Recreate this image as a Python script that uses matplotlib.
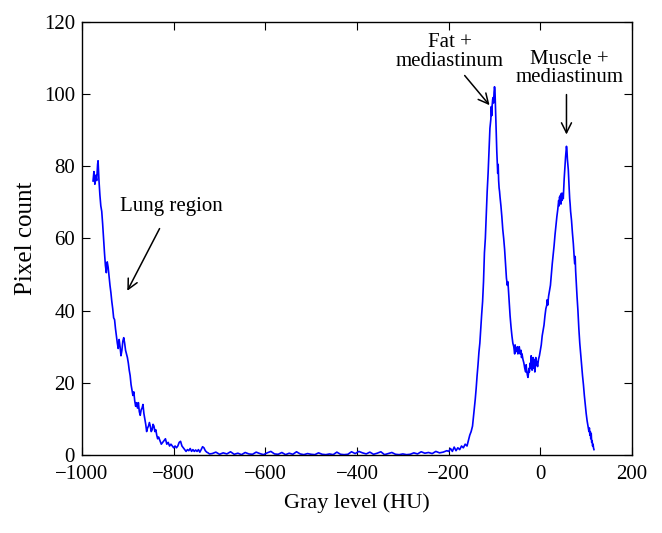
import matplotlib
matplotlib.use("Agg")
import matplotlib.pyplot as plt

plt.rcParams['font.family'] = ['Liberation Serif', 'DejaVu Serif']

# gray level (HU) and pixel count
lung_hu = [-976, -974, -972, -970, -968, -966, -965, -963, -961, -959, -957, -955,
           -953, -951, -949, -947, -945, -943, -941, -939, -937, -935, -933, -931,
           -929, -927, -925, -923, -921, -919, -917, -915, -913, -911, -909, -907,
           -905, -903, -901, -899, -897, -895, -893, -891, -889, -887, -885, -883,
           -881, -879, -877, -875, -873, -871, -869, -867, -865, -863, -861, -859,
           -857, -855, -853, -851, -849, -847, -845, -843, -841, -839, -837, -835,
           -833, -830, -827, -824, -821, -818, -815, -812, -809, -806, -803, -800,
           -797, -794, -791, -788, -785, -782, -779, -776, -773, -770, -767, -764,
           -761, -758, -755, -752, -749, -746, -743, -740, -737, -734, -731, -728,
           -725, -722]
lung_count = [75.9, 78.5, 75.0, 77.5, 76.0, 80.5, 81.5, 76.0, 72.0, 69.0, 67.5, 64.0,
              60.0, 56.0, 52.5, 50.5, 53.5, 52.0, 49.5, 47.0, 45.0, 42.5, 40.5, 38.0,
              37.5, 35.0, 33.0, 31.0, 29.5, 32.0, 30.0, 27.5, 29.0, 31.5, 32.5, 31.0,
              29.0, 28.0, 27.0, 25.5, 23.5, 22.0, 19.5, 18.0, 16.5, 17.5, 15.0, 13.5,
              14.5, 13.0, 14.5, 12.0, 11.0, 12.5, 13.0, 14.0, 11.5, 10.0, 8.5, 6.5,
              7.5, 8.0, 9.0, 8.0, 6.5, 7.0, 8.5, 8.0, 6.5, 7.0, 5.5, 4.5,
              5.0, 4.0, 3.0, 3.5, 4.0, 4.5, 3.0, 3.5, 2.5, 3.0, 2.5, 2.0,
              2.5, 2.0, 2.5, 3.5, 3.8, 2.5, 2.0, 1.5, 1.0, 1.5, 1.2, 1.8,
              1.0, 1.5, 1.0, 1.4, 1.0, 1.5, 0.8, 1.5, 2.3, 2.0, 1.2, 0.8,
              0.6, 0.3]

flat_hu = [-716, -708, -700, -692, -684, -676, -668, -660, -652, -644, -636, -628,
           -620, -612, -604, -596, -588, -580, -572, -564, -556, -548, -540, -532,
           -524, -516, -508, -500, -492, -484, -476, -468, -460, -452, -444, -436,
           -428, -420, -412, -404, -396, -388, -380, -372, -364, -356, -348, -340,
           -332, -324, -316, -308, -300, -292, -284, -276, -268, -260, -252, -244,
           -236, -228, -220, -212, -204]
flat_count = [0.4, 0.8, 0.2, 0.6, 0.3, 0.9, 0.2, 0.5, 0.1, 0.7, 0.3, 0.2,
              0.8, 0.4, 0.1, 0.6, 1.0, 0.3, 0.2, 0.7, 0.1, 0.5, 0.2, 0.9,
              0.3, 0.1, 0.4, 0.2, 0.1, 0.6, 0.2, 0.1, 0.3, 0.1, 0.8, 0.2,
              0.1, 0.2, 0.9, 0.4, 1.0, 0.6, 0.3, 0.8, 0.2, 0.5, 0.9, 0.1,
              0.4, 0.7, 0.2, 0.1, 0.3, 0.1, 0.2, 0.6, 0.3, 0.9, 0.5, 0.7,
              0.4, 1.0, 0.6, 0.8, 1.2]

soft_hu = [-200, -196, -192, -188, -184, -180, -176, -172, -168, -164, -160, -157,
           -154, -151, -148, -146, -144, -142, -140, -138, -136, -134, -132, -130,
           -128, -126, -124, -122, -120, -118, -116, -114, -112, -110, -108, -107,
           -106, -105, -104, -103, -102, -101, -100, -99, -98, -97, -96, -95,
           -94, -93, -92, -91, -90, -89, -88, -86, -84, -82, -80, -78,
           -76, -74, -72, -71, -70, -68, -66, -64, -62, -60, -58, -56,
           -55, -54, -52, -50, -49, -48, -46, -44, -42, -41, -40, -38,
           -36, -34, -32, -31, -30, -28, -27, -26, -25, -24, -22, -21,
           -20, -19, -18, -16, -15, -14, -12, -11, -10, -9, -8, -6,
           -4, -2, 0, 2, 4, 6, 8, 10, 12, 14, 15, 16,
           18, 20, 22, 24, 26, 28, 30, 32, 34, 36, 38, 40,
           41, 42, 43, 44, 45, 46, 47, 48, 49, 50, 51, 52,
           53, 54, 55, 56, 57, 58, 59, 60, 61, 62, 63, 64,
           65, 66, 68, 70, 72, 74, 75, 76, 77, 78, 80, 82,
           84, 86, 88, 90, 92, 94, 96, 98, 100, 102, 104, 106,
           107, 108, 109, 110, 111, 112, 113, 114, 115, 116, 117]
soft_count = [1.0, 1.8, 1.0, 2.2, 1.2, 2.0, 1.5, 2.5, 2.0, 3.0, 2.5, 4.0,
              5.5, 6.5, 8.0, 10.5, 13.0, 15.5, 18.5, 22.0, 25.0, 28.5, 31.0, 35.0,
              39.0, 42.5, 48.0, 56.0, 60.0, 66.5, 73.0, 78.0, 84.0, 90.5, 93.0, 96.5,
              94.0, 97.0, 98.5, 99.0, 97.5, 100.5, 102.0, 101.0, 97.0, 92.5, 88.0, 84.0,
              81.0, 78.0, 80.5, 76.0, 74.0, 73.0, 71.5, 69.0, 66.0, 62.5, 60.0, 57.0,
              53.0, 49.0, 47.0, 48.0, 46.5, 42.5, 38.5, 35.5, 33.0, 31.0, 30.0, 28.0,
              30.5, 28.5, 29.5, 30.0, 28.0, 29.0, 30.0, 28.0, 29.0, 27.0, 28.0, 26.5,
              25.5, 24.0, 23.0, 25.0, 23.5, 22.0, 21.5, 22.5, 24.0, 23.0, 25.5, 24.0,
              27.5, 25.0, 23.5, 27.0, 24.0, 26.5, 23.0, 24.5, 27.0, 25.0, 26.0, 24.5,
              26.5, 27.5, 29.0, 30.5, 33.0, 34.5, 36.0, 38.5, 40.5, 41.5, 43.0, 41.5,
              44.0, 45.5, 47.0, 50.0, 53.0, 55.5, 58.0, 61.0, 63.5, 66.0, 68.0, 70.5,
              69.0, 71.5, 70.0, 72.0, 69.5, 72.5, 70.5, 71.0, 72.5, 71.0, 74.0, 76.5,
              78.5, 80.5, 82.5, 84.0, 85.5, 84.5, 82.0, 80.5, 79.0, 76.0, 73.5, 71.0,
              69.5, 67.5, 65.0, 61.5, 58.5, 54.5, 53.0, 55.0, 51.0, 48.5, 44.0, 40.0,
              35.0, 31.0, 28.0, 25.0, 22.0, 19.5, 16.5, 14.0, 11.5, 9.5, 8.0, 6.5,
              7.5, 5.5, 6.5, 4.5, 6.0, 3.5, 4.0, 2.5, 3.0, 2.0, 1.5]

hu = lung_hu + flat_hu + soft_hu
count = lung_count + flat_count + soft_count

fig = plt.figure(figsize=(6.62, 5.33), dpi=100)
ax = fig.add_axes([0.1239, 0.1463, 0.8308, 0.8129])

ax.plot(hu, count, color='#0000ff', lw=1.2)

ax.set_xlim(-1000, 200)
ax.set_ylim(0, 120)
ax.set_xticks([-1000, -800, -600, -400, -200, 0, 200])
ax.set_yticks([0, 20, 40, 60, 80, 100, 120])
ax.set_xticklabels(['\u22121000', '\u2212800', '\u2212600', '\u2212400', '\u2212200', '0', '200'])
ax.tick_params(direction='in', top=True, right=True, length=6, labelsize=15)
ax.tick_params(axis='x', pad=7)
ax.tick_params(axis='y', pad=5)
for s in ax.spines.values():
    s.set_linewidth(1.0)

ax.set_xlabel('Gray level (HU)', fontsize=16, labelpad=7)
ax.set_ylabel('Pixel count', fontsize=18, labelpad=5)

arrow = dict(arrowstyle='->', color='black', lw=1.1, mutation_scale=18)
ax.text(-806, 68.8, 'Lung region', fontsize=15, ha='center', va='center')
ax.annotate('', xy=(-904, 44.8), xytext=(-828, 63.4), arrowprops=arrow)

ax.text(-197, 111.6, 'Fat +\nmediastinum', fontsize=15, ha='center', va='center',
        linespacing=0.95)
ax.annotate('', xy=(-107, 96.3), xytext=(-169, 105.7), arrowprops=arrow)

ax.text(63, 107, 'Muscle +\nmediastinum', fontsize=15, ha='center', va='center',
        linespacing=0.95)
ax.annotate('', xy=(57, 88), xytext=(57, 100.6), arrowprops=arrow)

fig.savefig('out.png', dpi=100)
